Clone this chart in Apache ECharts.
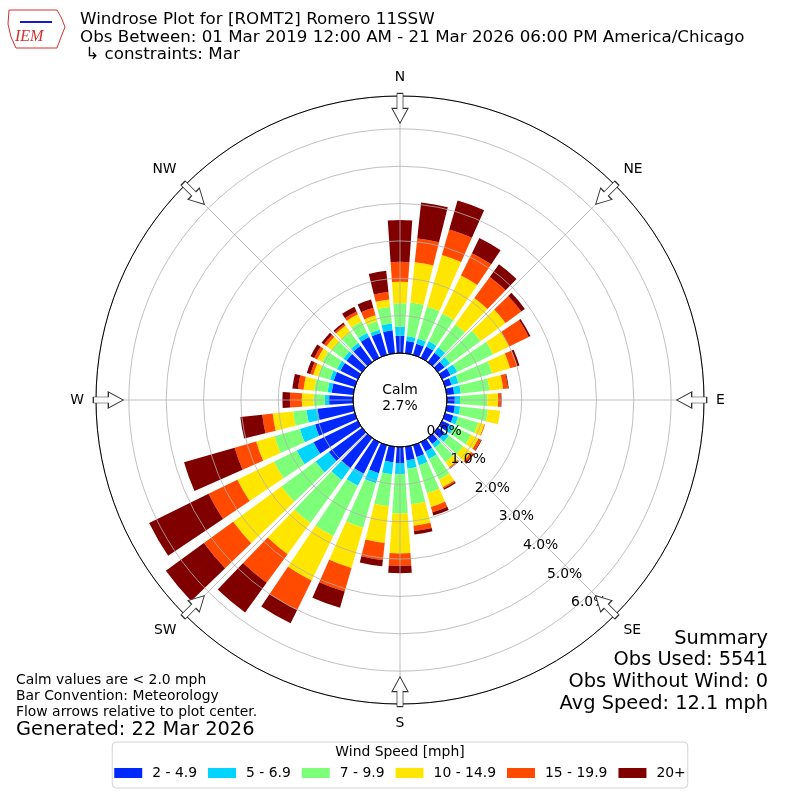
<!DOCTYPE html>
<html lang="en">
<head>
    <meta charset="UTF-8">
    <title>Windrose ROMT2</title>
    <style>
        html, body { margin: 0; padding: 0; background: #fff; }
        #main { width: 800px; height: 800px; }
    </style>
    <script src="https://cdn.jsdelivr.net/npm/echarts@6/dist/echarts.min.js"></script>
</head>
<body>

    <div id="main"></div>

    <script>
        // 36 direction bins, 10 degrees each, starting at north
        const directions = [0, 10, 20, 30, 40, 50, 60, 70, 80, 90, 100, 110, 120, 130, 140, 150, 160, 170,
            180, 190, 200, 210, 220, 230, 240, 250, 260, 270, 280, 290, 300, 310, 320, 330, 340, 350];

        // percent of observations per bin
        const spd2to5 = [0.46, 0.33, 0.31, 0.34, 0.31, 0.22, 0.25, 0.18, 0.20, 0.21, 0.22, 0.23, 0.22, 0.22, 0.20, 0.28, 0.33, 0.37,
            0.43, 0.42, 0.78, 0.94, 1.01, 1.10, 1.32, 1.11, 0.96, 0.64, 0.58, 0.59, 0.52, 0.52, 0.54, 0.62, 0.61, 0.62];
        const spd5to7 = [0.24, 0.13, 0.14, 0.15, 0.18, 0.18, 0.20, 0.19, 0.18, 0.14, 0.14, 0.13, 0.14, 0.14, 0.12, 0.22, 0.23, 0.22,
            0.29, 0.32, 0.28, 0.36, 0.38, 0.44, 0.50, 0.42, 0.30, 0.11, 0.11, 0.10, 0.10, 0.10, 0.10, 0.12, 0.09, 0.18];
        const spd7to10 = [0.63, 0.91, 0.90, 0.83, 0.76, 1.02, 1.07, 0.94, 0.77, 0.73, 0.75, 0.56, 0.50, 0.48, 0.48, 0.61, 0.78, 0.96,
            1.06, 0.86, 1.24, 1.50, 1.43, 1.13, 0.68, 0.71, 0.36, 0.31, 0.36, 0.33, 0.44, 0.38, 0.35, 0.34, 0.24, 0.45];
        const spd10to15 = [0.58, 1.08, 1.43, 1.13, 0.87, 0.82, 0.48, 0.50, 0.37, 0.29, 0.33, 0.17, 0.22, 0.26, 0.17, 0.23, 0.38, 0.58,
            1.07, 0.99, 1.12, 1.32, 1.03, 1.60, 1.09, 0.51, 0.55, 0.31, 0.29, 0.14, 0.15, 0.18, 0.22, 0.22, 0.16, 0.20];
        const spd15to20 = [0.53, 0.64, 0.71, 0.67, 0.70, 0.52, 0.58, 0.20, 0.13, 0.07, 0.00, 0.02, 0.08, 0.06, 0.04, 0.04, 0.15, 0.14,
            0.33, 0.46, 0.66, 0.88, 0.95, 0.97, 0.86, 0.60, 0.28, 0.32, 0.15, 0.08, 0.09, 0.08, 0.05, 0.08, 0.21, 0.20];
        const spd20up = [1.12, 0.97, 0.81, 0.45, 0.42, 0.12, 0.05, 0.06, 0.02, 0.02, 0.00, 0.00, 0.02, 0.04, 0.01, 0.04, 0.09, 0.09,
            0.20, 0.17, 0.45, 0.40, 0.98, 1.26, 1.77, 1.41, 0.59, 0.20, 0.15, 0.10, 0.11, 0.08, 0.05, 0.14, 0.23, 0.57];

        const binNames = ['2 - 4.9', '5 - 6.9', '7 - 9.9', '10 - 14.9', '15 - 19.9', '20+'];
        const binColors = ['#0028ff', '#00d4ff', '#7dff7a', '#ffe600', '#ff4a00', '#800000'];
        const binData = [spd2to5, spd5to7, spd7to10, spd10to15, spd15to20, spd20up];

        const compass = ['N', 'NE', 'E', 'SE', 'S', 'SW', 'W', 'NW'];
        const arrowAngles = [0, 45, 90, 135, 180, 225, 270, 315];
        const calmPct = 2.7;
        const rMax = 6.88;

        const summaryLines = ['Summary', 'Obs Used: 5541', 'Obs Without Wind: 0', 'Avg Speed: 12.1 mph'];

        const font = 'DejaVu Sans';
        const cx = 400, cy = 400;

        let chartDom = document.getElementById('main');
        let myChart = echarts.init(chartDom);

        let series = binNames.map(function (name, i) {
            return {
                name: name,
                type: 'bar',
                coordinateSystem: 'polar',
                polarIndex: 1,
                stack: 'wind',
                barCategoryGap: '22%',
                itemStyle: { color: binColors[i] },
                data: binData[i]
            };
        });

        // flow arrows on the outer ring
        series.push({
            type: 'scatter',
            coordinateSystem: 'polar',
            polarIndex: 0,
            z: 6,
            silent: true,
            symbol: 'path://M8,0 L16,15 L11,15 L11,30 L5,30 L5,15 L0,15 Z',
            symbolSize: [16, 30],
            itemStyle: { color: '#fff', borderColor: '#333', borderWidth: 1, opacity: 1 },
            data: arrowAngles.map(function (a) {
                return { value: [rMax - 0.33, a], symbolRotate: -(a + 180) };
            })
        });

        let titles = [
            {
                text: 'Windrose Plot for [ROMT2] Romero 11SSW\nObs Between: 01 Mar 2019 12:00 AM - 21 Mar 2026 06:00 PM America/Chicago\n ↳ constraints: Mar',
                left: 80, top: 11, padding: 0,
                textStyle: { fontFamily: font, fontSize: 16.7, fontWeight: 'normal', lineHeight: 17.5, color: '#000' }
            },
            {
                text: 'Calm', left: 'center', top: 383, padding: 0,
                textStyle: { fontFamily: font, fontSize: 13.9, fontWeight: 'normal', color: '#000' }
            },
            {
                text: calmPct.toFixed(1) + '%', left: 'center', top: 399, padding: 0,
                textStyle: { fontFamily: font, fontSize: 13.9, fontWeight: 'normal', color: '#000' }
            },
            {
                text: 'Calm values are < 2.0 mph\nBar Convention: Meteorology\nFlow arrows relative to plot center.',
                left: 16, top: 672, padding: 0,
                textStyle: { fontFamily: font, fontSize: 13.9, fontWeight: 'normal', lineHeight: 16, color: '#000' }
            },
            {
                text: 'Generated: 22 Mar 2026',
                left: 16, top: 720, padding: 0,
                textStyle: { fontFamily: font, fontSize: 19.4, fontWeight: 'normal', color: '#000' }
            },
            {
                text: 'Wind Speed [mph]',
                left: 'center', top: 745, padding: 0,
                textStyle: { fontFamily: font, fontSize: 13.9, fontWeight: 'normal', color: '#000' }
            }
        ];
        summaryLines.forEach(function (line, i) {
            titles.push({
                text: line, right: 32, top: 629 + i * 21.7, padding: 0,
                textStyle: { fontFamily: font, fontSize: 19.4, fontWeight: 'normal', color: '#000' }
            });
        });

        let option = {
            animation: false,
            backgroundColor: '#fff',
            textStyle: { fontFamily: font },
            title: titles,
            legend: {
                left: 'center',
                bottom: 12,
                icon: 'rect',
                itemWidth: 28,
                itemHeight: 10,
                itemGap: 11,
                padding: [24, 2, 8, 2],
                borderColor: '#d4d4d4',
                borderWidth: 1,
                borderRadius: 4,
                textStyle: { fontFamily: font, fontSize: 13.9, color: '#000', padding: [0, 0, 0, 5] },
                data: binNames
            },
            polar: [
                { center: [cx, cy], radius: [47, 304] },
                { center: [cx, cy], radius: [47, 304] },
                { center: [cx, cy], radius: [47, 304] },
                { center: [cx, cy], radius: [0, 47] }
            ],
            angleAxis: [
                {
                    polarIndex: 0, type: 'value', min: 0, max: 360, interval: 45,
                    startAngle: 90, clockwise: true, z: 4,
                    axisLine: { lineStyle: { color: '#000', width: 1 } },
                    axisTick: { show: false },
                    splitLine: { show: true, lineStyle: { color: '#b0b0b0', width: 0.8 } },
                    axisLabel: {
                        margin: 12, fontSize: 13.9, color: '#000', fontFamily: font,
                        formatter: function (v) { return compass[(v / 45) % 8]; }
                    }
                },
                {
                    polarIndex: 1, type: 'category', data: directions.map(String),
                    startAngle: 95, clockwise: true, boundaryGap: true,
                    axisLine: { show: false }, axisTick: { show: false },
                    axisLabel: { show: false }, splitLine: { show: false }
                },
                {
                    polarIndex: 2, type: 'value', min: 0, max: 360, startAngle: -49.8,
                    axisLine: { show: false }, axisTick: { show: false },
                    axisLabel: { show: false }, splitLine: { show: false }
                },
                {
                    polarIndex: 3, type: 'value', min: 0, max: 360, startAngle: 90, z: 5,
                    axisLine: { lineStyle: { color: '#000', width: 1 } },
                    axisTick: { show: false }, axisLabel: { show: false }, splitLine: { show: false }
                }
            ],
            radiusAxis: [
                {
                    polarIndex: 0, type: 'value', min: 0, max: rMax, interval: 1, z: 3,
                    axisLine: { show: false }, axisTick: { show: false }, axisLabel: { show: false },
                    splitLine: { show: true, lineStyle: { color: '#b0b0b0', width: 0.8 } }
                },
                {
                    polarIndex: 1, type: 'value', min: 0, max: rMax,
                    axisLine: { show: false }, axisTick: { show: false },
                    axisLabel: { show: false }, splitLine: { show: false }
                },
                {
                    polarIndex: 2, type: 'value', min: 0, max: rMax, interval: 1, z: 6,
                    axisLine: { show: false }, axisTick: { show: false }, splitLine: { show: false },
                    axisLabel: {
                        showMaxLabel: false, margin: 18, align: 'center', verticalAlign: 'top',
                        fontSize: 13.9, color: '#000', fontFamily: font,
                        formatter: function (v) { return v.toFixed(1) + '%'; }
                    }
                },
                {
                    polarIndex: 3, type: 'value', min: 0, max: 1,
                    axisLine: { show: false }, axisTick: { show: false },
                    axisLabel: { show: false }, splitLine: { show: false }
                }
            ],
            graphic: [
                {
                    type: 'polygon', silent: true,
                    shape: { points: [[9, 10], [57, 10], [61, 17], [65, 27], [61, 37], [57, 48], [16, 48], [11, 37], [8, 24]] },
                    style: { fill: 'none', stroke: '#d43030', lineWidth: 1 }
                },
                {
                    type: 'polyline', silent: true,
                    shape: { points: [[20, 22], [52, 22]] },
                    style: { stroke: '#1a1acc', lineWidth: 2 }
                },
                {
                    type: 'text', left: 15, top: 29, silent: true,
                    style: { text: 'IEM', fill: '#d43030', font: 'italic 16px "Liberation Serif", serif' }
                }
            ],
            series: series
        };

        option && myChart.setOption(option);
    </script>

</body>
</html>
